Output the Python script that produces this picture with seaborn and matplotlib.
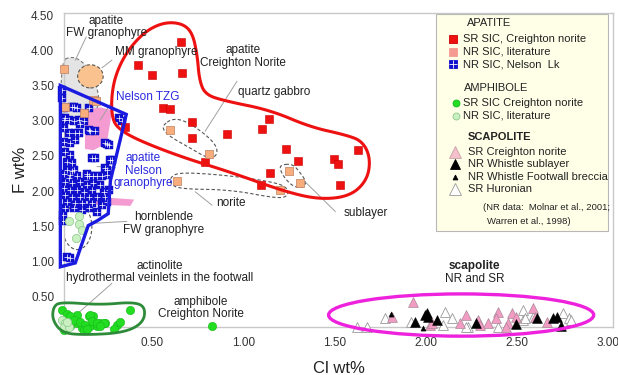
import numpy as np
import pandas as pd
import matplotlib
matplotlib.use("Agg")
import matplotlib.pyplot as plt
import seaborn as sns
from matplotlib.patches import Polygon, Ellipse, Rectangle
from matplotlib.lines import Line2D

# === DATI ===
# apatite
sr_cn_x = [0.657, 0.42, 0.50, 0.665, 0.557, 0.595, 0.72, 0.35, 0.72, 0.91, 1.14, 1.10, 0.79,
           1.235, 1.30, 1.148, 1.097, 1.50, 1.52, 1.53, 1.63]
sr_cn_y = [4.12, 3.79, 3.65, 3.68, 3.18, 3.16, 2.98, 2.91, 2.75, 2.81, 3.02, 2.88, 2.41,
           2.60, 2.43, 2.26, 2.08, 2.46, 2.38, 2.09, 2.58]
nr_lit_x = [0.595, 0.81, 0.637, 1.20, 1.25, 1.31, 0.013, 0.177, 0.123, 0.022, 0.19]
nr_lit_y = [2.87, 2.53, 2.14, 2.01, 2.28, 2.12, 3.74, 3.30, 3.11, 3.20, 3.28]
nelson_x = [0.004, 0.004, 0.013, 0.068, 0.013, 0.04, 0.068, 0.095, 0.123, 0.013, 0.04, 0.077,
            0.095, 0.159, 0.187, 0.315, 0.334, 0.013, 0.049, 0.077, 0.242, 0.26, 0.022, 0.049,
            0.169, 0.187, 0.269, 0.031, 0.059, 0.031, 0.059, 0.242, 0.15, 0.196, 0.04, 0.013,
            0.049, 0.086, 0.141, 0.177, 0.224, 0.251, 0.022, 0.059, 0.104, 0.141, 0.177, 0.214,
            0.013, 0.049, 0.086, 0.123, 0.169, 0.232, 0.26, 0.022, 0.059, 0.104, 0.15, 0.196,
            0.242, 0.031, 0.077, 0.114, 0.169, 0.224, 0.251, 0.022, 0.068, 0.114, 0.15, 0.196,
            0.031, 0.049, 0.059, 0.086, 0.15, 0.022, 0.104, 0.15, 0.251, 0.279, 0.141, 0.251,
            0.068, 0.01, 0.01]
nelson_y = [3.44, 3.32, 3.18, 3.20, 3.01, 3.01, 2.99, 3.01, 2.99, 2.89, 2.82, 2.82,
            2.82, 2.85, 2.85, 3.04, 2.99, 2.70, 2.68, 2.73, 2.68, 2.66, 2.56, 2.51,
            2.47, 2.47, 2.44, 2.42, 2.40, 2.30, 2.28, 2.33, 2.21, 2.21, 2.18, 2.25,
            2.23, 2.21, 2.21, 2.21, 2.21, 2.23, 2.13, 2.11, 2.13, 2.09, 2.11, 2.09,
            2.04, 2.02, 2.02, 1.99, 2.02, 1.99, 2.02, 1.95, 1.92, 1.92, 1.92, 1.92,
            1.92, 1.85, 1.83, 1.83, 1.83, 1.80, 1.85, 1.76, 1.76, 1.73, 1.76, 1.71,
            1.07, 1.05, 3.20, 3.18, 3.18, 3.04, 2.96, 2.87, 2.67, 2.44, 2.25, 2.30,
            2.30, 1.66, 1.57]
# amphibole
amph_sr_x = [0.005, 0.032, 0.086, 0.15, 0.177, 0.214, 0.242, 0.306, 0.288, 0.375, 0.086, 0.113,
             0.05, 0.013, 0.16, 0.196, 0.046, 0.071, 0.104, 0.132, 0.16, 0.168, 0.196, 0.232,
             0.324, 0.123, 0.141, 0.21, 0.83]
amph_sr_y = [0.31, 0.26, 0.24, 0.22, 0.22, 0.12, 0.12, 0.10, 0.04, 0.31, 0.12, 0.05,
             0.08, 0.03, 0.08, 0.08, 0.22, 0.17, 0.14, 0.10, 0.24, 0.16, 0.12, 0.12,
             0.14, 0.03, 0.04, 0.08, 0.08]
amph_nr_x = [0.005, 0.022, 0.013, 0.04, 0.032, 0.044, 0.095, 0.099, 0.114, 0.081]
amph_nr_y = [0.17, 0.12, 0.075, 0.075, 0.14, 1.58, 1.64, 1.54, 1.45, 1.34]
# scapolite
scp_sr_x = [1.934, 1.819, 2.027, 2.220, 2.291, 2.396, 2.478, 2.588, 2.451, 2.192, 2.341, 2.670,
            2.038, 2.385, 2.495, 2.604, 2.440, 2.302]
scp_sr_y = [0.426, 0.213, 0.099, 0.241, 0.170, 0.284, 0.270, 0.341, 0.128, 0.128, 0.128, 0.142,
            0.128, 0.199, 0.213, 0.213, 0.071, 0.099]
whistle_x = [2.011, 1.945, 2.066, 2.000, 2.275, 2.495, 2.615, 2.698, 2.725, 2.742, 2.016]
whistle_y = [0.270, 0.142, 0.170, 0.241, 0.128, 0.114, 0.199, 0.199, 0.213, 0.085, 0.213]
breccia_x = [1.813, 1.989]
breccia_y = [0.256, 0.057]
huron_x = [1.626, 1.681, 1.780, 1.918, 2.110, 2.148, 2.099, 2.231, 2.538, 2.588, 2.758, 2.786,
           2.396, 2.538, 2.549, 2.797, 2.220]
huron_y = [0.071, 0.071, 0.199, 0.142, 0.284, 0.199, 0.099, 0.071, 0.313, 0.213, 0.270, 0.199,
           0.071, 0.170, 0.199, 0.170, 0.071]

# contorni dei campi
red_field = [(0.280, 3.04), (0.275, 3.30), (0.291, 3.58), (0.330, 3.84), (0.390, 4.08), (0.473, 4.29),
             (0.571, 4.40), (0.665, 4.38), (0.720, 4.25), (0.747, 3.93), (0.758, 3.58), (0.791, 3.37),
             (0.901, 3.28), (1.148, 3.15), (1.368, 2.91), (1.560, 2.80), (1.654, 2.71), (1.698, 2.47),
             (1.681, 2.16), (1.588, 1.93), (1.423, 1.88), (1.231, 1.99), (0.929, 2.27), (0.654, 2.49),
             (0.407, 2.74), (0.308, 2.90)]
blue_field = [(-0.005, 3.50), (0.357, 3.09), (0.27, 2.15), (0.258, 1.68), (0.198, 1.58), (0.148, 1.51),
              (0.077, 0.98), (-0.005, 0.925)]
green_field = [(-0.044, 0.355), (-0.005, 0.426), (0.214, 0.384), (0.396, 0.426), (0.462, 0.355),
               (0.451, 0.128), (0.341, -0.014), (0.121, -0.043), (0.005, -0.014), (-0.049, 0.17)]
grey_field = [(0.0, 3.86), (0.06, 3.91), (0.104, 3.86), (0.148, 3.75), (0.187, 3.55), (0.209, 3.32),
              (0.198, 3.15), (0.132, 3.08), (0.049, 3.04), (0.0, 3.04)]
tzg_field = [(0.13, 3.15), (0.214, 3.19), (0.28, 3.15), (0.25, 2.68), (0.176, 2.58), (0.13, 2.60)]
pink_bar = [(0.19, 1.92), (0.40, 1.88), (0.38, 1.79), (0.18, 1.81)]
qgabbro = [(0.560, 2.94), (0.610, 3.03), (0.681, 3.00), (0.791, 2.81), (0.857, 2.63), (0.852, 2.49),
           (0.802, 2.47), (0.709, 2.61), (0.599, 2.77), (0.560, 2.87)]
norite = [(0.599, 2.20), (0.654, 2.27), (0.929, 2.22), (1.187, 2.12), (1.247, 2.03), (1.242, 1.92),
          (1.176, 1.90), (0.929, 2.02), (0.654, 2.03), (0.599, 2.10)]
sublayer = [(1.203, 2.37), (1.269, 2.39), (1.313, 2.26), (1.346, 2.13), (1.330, 2.05), (1.275, 2.06),
            (1.225, 2.19), (1.203, 2.30)]


def chaikin(pts, n=4):
    p = np.array(pts, dtype=float)
    for _ in range(n):
        q = np.roll(p, -1, axis=0)
        p = np.column_stack([0.75 * p + 0.25 * q, 0.25 * p + 0.75 * q]).reshape(-1, 2)
    return p


sns.set_style("white")
plt.rcParams["font.family"] = ["Liberation Sans", "DejaVu Sans"]

fig = plt.figure(figsize=(6.18, 3.75), dpi=100)
ax = fig.add_axes([64 / 618, 1 - 327 / 375, 549 / 618, 314 / 375])

# === CAMPI ===
ax.add_patch(Polygon(chaikin(grey_field, 2), closed=True, fc="#e4e4e4", ec="#777777", ls=(0, (3, 2)),
                     lw=0.8, zorder=1, clip_on=False))
ax.add_patch(Ellipse((0.16, 3.63), 0.14, 0.33, fc="#f9c28e", ec="#555555", ls=(0, (3, 2)), lw=0.8, zorder=1))
ax.add_patch(Polygon(tzg_field, closed=True, fc="#f49bd2", ec="none", zorder=1))
ax.add_patch(Polygon(pink_bar, closed=True, fc="#f49bd2", ec="none", zorder=1))
ax.add_patch(Ellipse((0.088, 1.49), 0.16, 0.64, fc="none", ec="#555555", ls=(0, (3, 2)), lw=0.8, zorder=1))
for f in (qgabbro, norite, sublayer):
    ax.add_patch(Polygon(chaikin(f, 3), closed=True, fc="none", ec="#555555", ls=(0, (3, 2)), lw=0.8, zorder=1))

ax.add_patch(Polygon(chaikin(red_field), closed=True, fc="none", ec="#ee1111", lw=2.2, zorder=4))
ax.add_patch(Polygon(blue_field, closed=True, fc="none", ec="#1a1ae0", lw=2.4, zorder=4, clip_on=False))
ax.add_patch(Polygon(chaikin(green_field), closed=True, fc="none", ec="#2e8b3a", lw=2.0, zorder=4, clip_on=False))
ax.add_patch(Ellipse((2.196, 0.24), 1.456, 0.6, fc="none", ec="#ee22dd", lw=2.4, zorder=4, clip_on=False))

# === PUNTI ===
sns.scatterplot(x=nelson_x, y=nelson_y, marker="s", s=26, color="#1010cc", edgecolor="#1010cc",
                linewidth=0.3, ax=ax, zorder=3, clip_on=False)
ax.scatter(nelson_x, nelson_y, marker="+", s=24, color="white", linewidths=0.5, zorder=3, clip_on=False)
sns.scatterplot(x=sr_cn_x, y=sr_cn_y, marker="s", s=36, color="#ee1111", edgecolor="#cc0000",
                linewidth=0.4, ax=ax, zorder=3)
sns.scatterplot(x=nr_lit_x, y=nr_lit_y, marker="s", s=36, color="#f7ad7c", edgecolor="#c08060",
                linewidth=0.5, ax=ax, zorder=3, clip_on=False)
sns.scatterplot(x=amph_sr_x, y=amph_sr_y, marker="o", s=36, color="#22dd22", edgecolor="#18b818",
                linewidth=0.4, ax=ax, zorder=3, clip_on=False)
sns.scatterplot(x=amph_nr_x, y=amph_nr_y, marker="o", s=36, color="#c8f0c0", edgecolor="#8cc88c",
                linewidth=0.5, ax=ax, zorder=3, clip_on=False)
sns.scatterplot(x=huron_x, y=huron_y, marker="^", s=50, color="white", edgecolor="#999999",
                linewidth=0.6, ax=ax, zorder=3, clip_on=False)
sns.scatterplot(x=scp_sr_x, y=scp_sr_y, marker="^", s=50, color="#f29cc4", edgecolor="#a88898",
                linewidth=0.5, ax=ax, zorder=3, clip_on=False)
sns.scatterplot(x=whistle_x, y=whistle_y, marker="^", s=50, color="black", edgecolor="black",
                linewidth=0.4, ax=ax, zorder=3, clip_on=False)
sns.scatterplot(x=breccia_x, y=breccia_y, marker="^", s=14, color="black", edgecolor="black",
                linewidth=0.3, ax=ax, zorder=3, clip_on=False)

# === ETICHETTE ===
lead = dict(color="#a0a0a0", lw=0.7, zorder=2)
ax.plot([0.137, 0.077], [4.19, 3.86], **lead)
ax.plot([0.223, 0.278], [3.75, 3.86], **lead)
ax.plot([0.214, 0.278], [3.01, 3.27], **lead)
ax.plot([0.196, 0.297], [2.35, 2.33], **lead)
ax.plot([0.965, 0.79], [3.56, 2.85], **lead)
ax.plot([0.736, 0.828], [1.99, 1.80], **lead)
ax.plot([1.34, 1.505], [2.13, 1.71], **lead)
ax.plot([0.16, 0.36], [1.54, 1.57], **lead)
ax.plot([0.278, 0.059], [0.69, 0.19], **lead)

txt = dict(fontsize=8.5, color="#222222", ha="center", va="center", linespacing=1.05, zorder=5)
ax.text(0.247, 4.33, "apatite\nFW granophyre", **txt)
ax.text(0.297, 3.98, "MM granophyre", **{**txt, "ha": "left"})
ax.text(0.473, 3.34, "Nelson TZG", **{**txt, "color": "#2a2ae0"})
ax.text(0.45, 2.29, "apatite\nNelson\ngranophyre", **{**txt, "color": "#2a2ae0"})
ax.text(0.996, 3.91, "apatite\nCreighton Norite", **txt)
ax.text(1.167, 3.41, "quartz gabbro", **txt)
ax.text(0.93, 1.83, "norite", **txt)
ax.text(1.67, 1.69, "sublayer", **txt)
ax.text(0.56, 1.54, "hornblende\nFW granophyre", **txt)
ax.text(0.54, 0.85, "actinolite\nhydrothermal veinlets in the footwall", **txt)
ax.text(0.766, 0.34, "amphibole\nCreighton Norite", **txt)
ax.text(2.27, 0.93, "scapolite", **{**txt, "fontweight": "bold"})
ax.text(2.27, 0.75, "NR and SR", **txt)

# === ASSI ===
ax.set_xlim(0.015, 3.03)
ax.set_ylim(0.07, 4.53)
ax.set_xticks([0.5, 1.0, 1.5, 2.0, 2.5, 3.0])
ax.set_xticklabels([f"{v:.2f}" for v in [0.5, 1.0, 1.5, 2.0, 2.5, 3.0]])
ax.set_yticks([0.5, 1.0, 1.5, 2.0, 2.5, 3.0, 3.5, 4.0, 4.5])
ax.set_yticklabels([f"{v:.2f}" for v in [0.5, 1.0, 1.5, 2.0, 2.5, 3.0, 3.5, 4.0, 4.5]])
ax.tick_params(direction="out", length=4, width=0.8, color="#c0c0c0", labelsize=8.5,
               labelcolor="#333333", pad=3)
for sp in ax.spines.values():
    sp.set_color("#c8c8c8")
    sp.set_linewidth(1.0)
ax.set_xlabel("Cl wt%", fontsize=12, color="#222222", labelpad=9)
ax.set_ylabel("F wt%", fontsize=12, color="#222222", labelpad=2)

# === LEGENDA ===
def fx(px):
    return px / 618


def fy(py):
    return 1 - py / 375


fig.add_artist(Rectangle((fx(436), fy(231)), 172 / 618, 217 / 375, transform=fig.transFigure,
                         fc="#ffffe8", ec="#b8b8b8", lw=0.8, zorder=6))
leg_keys = [
    (39.3, 452.7, dict(marker="s", ms=6, mfc="#ee1111", mec="#cc0000")),
    (51.7, 452.7, dict(marker="s", ms=6, mfc="#f59a90", mec="#f59a90")),
    (64.3, 452.7, dict(marker="s", ms=5.5, mfc="#1010cc", mec="#1010cc")),
    (103.3, 455.5, dict(marker="o", ms=5, mfc="#22dd22", mec="#18b818")),
    (116.0, 455.5, dict(marker="o", ms=5, mfc="#c8f0c0", mec="#8cc88c")),
    (151.7, 455.0, dict(marker="^", ms=8, mfc="#f4c0cc", mec="#c8a0a8")),
    (164.3, 455.0, dict(marker="^", ms=7, mfc="black", mec="black")),
    (176.7, 455.0, dict(marker="^", ms=3.5, mfc="black", mec="black")),
    (189.3, 455.0, dict(marker="^", ms=8, mfc="white", mec="#999999")),
]
for py, px, kw in leg_keys:
    fig.add_artist(Line2D([fx(px)], [fy(py)], transform=fig.transFigure, lw=0, mew=0.6, zorder=7, **kw))
fig.add_artist(Line2D([fx(452.7)], [fy(64.3)], transform=fig.transFigure, lw=0, marker="+", ms=5.5,
                      mew=0.6, color="white", zorder=8))

leg_txt = [
    (23.3, 466.5, "APATITE", "normal", 8),
    (39.3, 463.3, "SR SIC, Creighton norite", "normal", 8),
    (51.7, 463.3, "NR SIC, literature", "normal", 8),
    (64.3, 463.3, "NR SIC, Nelson  Lk", "normal", 8),
    (87.7, 464.0, "AMPHIBOLE", "normal", 8),
    (103.3, 463.3, "SR SIC Creighton norite", "normal", 8),
    (116.0, 463.3, "NR SIC, literature", "normal", 8),
    (136.7, 468.0, "SCAPOLITE", "bold", 8),
    (151.7, 468.0, "SR Creighton norite", "normal", 8),
    (164.3, 468.0, "NR Whistle sublayer", "normal", 8),
    (176.7, 468.0, "NR Whistle Footwall breccia", "normal", 8),
    (189.3, 468.0, "SR Huronian", "normal", 8),
    (207.0, 483.3, "(NR data:  Molnar et al., 2001;", "normal", 6.8),
    (222.0, 487.3, "Warren et al., 1998)", "normal", 6.8),
]
for py, px, s, w, fs in leg_txt:
    fig.text(fx(px), fy(py), s, fontsize=fs, fontweight=w, color="#222222", ha="left", va="center",
             zorder=8)

fig.savefig("out.png", dpi=100)
